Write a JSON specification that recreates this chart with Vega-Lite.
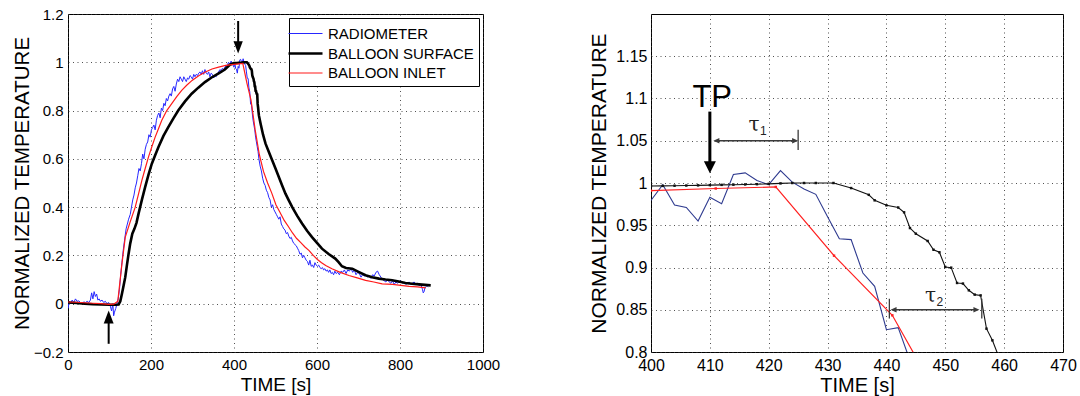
{
  "$schema": "https://vega.github.io/schema/vega-lite/v6.json",
  "padding": {"left": 11, "top": 6, "right": 4, "bottom": 0},
  "bounds": "flush",
  "spacing": 168,
  "config": {
    "font": "Liberation Sans",
    "view": {"stroke": "#000", "strokeWidth": 1},
    "axis": {
      "domain": false, "ticks": false, "labelFlush": false,
      "grid": true, "gridColor": "#333", "gridDash": [1, 3.5], "gridOpacity": 0.85, "gridWidth": 1,
      "labelColor": "#000", "titleColor": "#000", "titleFontWeight": "normal",
      "labelFont": "Liberation Sans", "titleFont": "Liberation Sans"
    }
  },
  "resolve": {"scale": {"color": "independent", "strokeWidth": "independent"}},
  "datasets": {
    "series": [
      {"s":"RADIOMETER","t":0,"v":-0.02},{"s":"RADIOMETER","t":3,"v":0.01},{"s":"RADIOMETER","t":6,"v":0.0},{"s":"RADIOMETER","t":10,"v":0.015},{"s":"RADIOMETER","t":14,"v":0.005},{"s":"RADIOMETER","t":18,"v":0.02},{"s":"RADIOMETER","t":22,"v":0.01},{"s":"RADIOMETER","t":26,"v":0.012},{"s":"RADIOMETER","t":30,"v":0.005},{"s":"RADIOMETER","t":34,"v":0.0},{"s":"RADIOMETER","t":38,"v":0.008},{"s":"RADIOMETER","t":42,"v":0.004},{"s":"RADIOMETER","t":46,"v":0.01},{"s":"RADIOMETER","t":50,"v":0.005},{"s":"RADIOMETER","t":54,"v":0.015},{"s":"RADIOMETER","t":57,"v":0.045},{"s":"RADIOMETER","t":60,"v":0.02},{"s":"RADIOMETER","t":63,"v":0.05},{"s":"RADIOMETER","t":66,"v":0.03},{"s":"RADIOMETER","t":69,"v":0.04},{"s":"RADIOMETER","t":72,"v":0.015},{"s":"RADIOMETER","t":75,"v":0.02},{"s":"RADIOMETER","t":78,"v":0.01},{"s":"RADIOMETER","t":82,"v":0.015},{"s":"RADIOMETER","t":86,"v":0.005},{"s":"RADIOMETER","t":90,"v":0.01},{"s":"RADIOMETER","t":94,"v":0.0},{"s":"RADIOMETER","t":98,"v":0.005},{"s":"RADIOMETER","t":102,"v":-0.01},{"s":"RADIOMETER","t":105,"v":-0.03},{"s":"RADIOMETER","t":108,"v":0.0},{"s":"RADIOMETER","t":110,"v":-0.05},{"s":"RADIOMETER","t":112,"v":-0.035},{"s":"RADIOMETER","t":115,"v":-0.02},{"s":"RADIOMETER","t":118,"v":0.0},{"s":"RADIOMETER","t":121,"v":0.02},
      {"s":"RADIOMETER","t":124,"v":0.06},{"s":"RADIOMETER","t":127,"v":0.12},{"s":"RADIOMETER","t":130,"v":0.17},{"s":"RADIOMETER","t":133,"v":0.22},{"s":"RADIOMETER","t":136,"v":0.26},{"s":"RADIOMETER","t":140,"v":0.31},{"s":"RADIOMETER","t":143,"v":0.33},{"s":"RADIOMETER","t":146,"v":0.35},{"s":"RADIOMETER","t":150,"v":0.37},{"s":"RADIOMETER","t":153,"v":0.4},{"s":"RADIOMETER","t":156,"v":0.43},{"s":"RADIOMETER","t":159,"v":0.45},{"s":"RADIOMETER","t":162,"v":0.48},{"s":"RADIOMETER","t":165,"v":0.5},{"s":"RADIOMETER","t":168,"v":0.53},{"s":"RADIOMETER","t":171,"v":0.56},{"s":"RADIOMETER","t":174,"v":0.55},{"s":"RADIOMETER","t":177,"v":0.58},{"s":"RADIOMETER","t":180,"v":0.62},{"s":"RADIOMETER","t":183,"v":0.6},{"s":"RADIOMETER","t":186,"v":0.64},{"s":"RADIOMETER","t":189,"v":0.66},{"s":"RADIOMETER","t":192,"v":0.67},{"s":"RADIOMETER","t":195,"v":0.7},{"s":"RADIOMETER","t":198,"v":0.69},{"s":"RADIOMETER","t":201,"v":0.72},{"s":"RADIOMETER","t":204,"v":0.73},{"s":"RADIOMETER","t":207,"v":0.74},{"s":"RADIOMETER","t":210,"v":0.72},{"s":"RADIOMETER","t":213,"v":0.76},{"s":"RADIOMETER","t":216,"v":0.78},{"s":"RADIOMETER","t":219,"v":0.79},{"s":"RADIOMETER","t":222,"v":0.77},{"s":"RADIOMETER","t":225,"v":0.81},{"s":"RADIOMETER","t":228,"v":0.8},{"s":"RADIOMETER","t":231,"v":0.83},{"s":"RADIOMETER","t":234,"v":0.82},{"s":"RADIOMETER","t":237,"v":0.85},{"s":"RADIOMETER","t":240,"v":0.84},{"s":"RADIOMETER","t":243,"v":0.86},{"s":"RADIOMETER","t":246,"v":0.87},{"s":"RADIOMETER","t":249,"v":0.86},{"s":"RADIOMETER","t":252,"v":0.89},{"s":"RADIOMETER","t":255,"v":0.9},{"s":"RADIOMETER","t":258,"v":0.88},{"s":"RADIOMETER","t":261,"v":0.91},{"s":"RADIOMETER","t":264,"v":0.93},{"s":"RADIOMETER","t":267,"v":0.92},{"s":"RADIOMETER","t":270,"v":0.94},{"s":"RADIOMETER","t":273,"v":0.93},{"s":"RADIOMETER","t":276,"v":0.92},{"s":"RADIOMETER","t":279,"v":0.94},{"s":"RADIOMETER","t":282,"v":0.93},{"s":"RADIOMETER","t":285,"v":0.92},{"s":"RADIOMETER","t":288,"v":0.935},{"s":"RADIOMETER","t":291,"v":0.93},{"s":"RADIOMETER","t":294,"v":0.945},{"s":"RADIOMETER","t":297,"v":0.94},{"s":"RADIOMETER","t":300,"v":0.93},{"s":"RADIOMETER","t":303,"v":0.95},{"s":"RADIOMETER","t":306,"v":0.94},{"s":"RADIOMETER","t":309,"v":0.95},{"s":"RADIOMETER","t":312,"v":0.945},{"s":"RADIOMETER","t":315,"v":0.955},{"s":"RADIOMETER","t":318,"v":0.96},{"s":"RADIOMETER","t":321,"v":0.95},{"s":"RADIOMETER","t":324,"v":0.965},{"s":"RADIOMETER","t":327,"v":0.95},{"s":"RADIOMETER","t":330,"v":0.97},{"s":"RADIOMETER","t":333,"v":0.955},{"s":"RADIOMETER","t":336,"v":0.95},{"s":"RADIOMETER","t":339,"v":0.96},{"s":"RADIOMETER","t":342,"v":0.94},{"s":"RADIOMETER","t":345,"v":0.955},{"s":"RADIOMETER","t":348,"v":0.95},{"s":"RADIOMETER","t":351,"v":0.935},{"s":"RADIOMETER","t":354,"v":0.945},{"s":"RADIOMETER","t":357,"v":0.94},{"s":"RADIOMETER","t":360,"v":0.955},{"s":"RADIOMETER","t":363,"v":0.96},{"s":"RADIOMETER","t":366,"v":0.97},{"s":"RADIOMETER","t":369,"v":0.965},{"s":"RADIOMETER","t":372,"v":0.975},{"s":"RADIOMETER","t":375,"v":0.97},{"s":"RADIOMETER","t":378,"v":0.98},{"s":"RADIOMETER","t":381,"v":0.985},{"s":"RADIOMETER","t":384,"v":0.99},{"s":"RADIOMETER","t":387,"v":1.0},{"s":"RADIOMETER","t":390,"v":0.99},{"s":"RADIOMETER","t":393,"v":1.005},{"s":"RADIOMETER","t":396,"v":0.995},
      {"s":"RADIOMETER","t":400,"v":0.9795},{"s":"RADIOMETER","t":402,"v":0.998},{"s":"RADIOMETER","t":404,"v":0.974},{"s":"RADIOMETER","t":406,"v":0.971},{"s":"RADIOMETER","t":408,"v":0.955},{"s":"RADIOMETER","t":410,"v":0.983},{"s":"RADIOMETER","t":412,"v":0.9755},{"s":"RADIOMETER","t":414,"v":1.01},{"s":"RADIOMETER","t":416,"v":1.012},{"s":"RADIOMETER","t":418,"v":1.003},{"s":"RADIOMETER","t":420,"v":0.998},{"s":"RADIOMETER","t":422,"v":1.0146},{"s":"RADIOMETER","t":424,"v":1.001},{"s":"RADIOMETER","t":426,"v":0.993},{"s":"RADIOMETER","t":428,"v":0.9866},{"s":"RADIOMETER","t":430,"v":0.96},{"s":"RADIOMETER","t":432,"v":0.934},{"s":"RADIOMETER","t":434,"v":0.933},{"s":"RADIOMETER","t":436,"v":0.8935},{"s":"RADIOMETER","t":438,"v":0.8777},{"s":"RADIOMETER","t":440,"v":0.8264},{"s":"RADIOMETER","t":442,"v":0.8288},{"s":"RADIOMETER","t":444,"v":0.79},{"s":"RADIOMETER","t":446,"v":0.76},{"s":"RADIOMETER","t":448,"v":0.74},{"s":"RADIOMETER","t":450,"v":0.72},{"s":"RADIOMETER","t":452,"v":0.69},{"s":"RADIOMETER","t":454,"v":0.67},{"s":"RADIOMETER","t":456,"v":0.65},{"s":"RADIOMETER","t":458,"v":0.63},{"s":"RADIOMETER","t":460,"v":0.6},{"s":"RADIOMETER","t":463,"v":0.57},{"s":"RADIOMETER","t":466,"v":0.55},{"s":"RADIOMETER","t":469,"v":0.52},{"s":"RADIOMETER","t":472,"v":0.5},{"s":"RADIOMETER","t":475,"v":0.49},{"s":"RADIOMETER","t":478,"v":0.47},{"s":"RADIOMETER","t":481,"v":0.46},{"s":"RADIOMETER","t":484,"v":0.44},{"s":"RADIOMETER","t":487,"v":0.43},{"s":"RADIOMETER","t":490,"v":0.4},{"s":"RADIOMETER","t":493,"v":0.41},{"s":"RADIOMETER","t":496,"v":0.39},{"s":"RADIOMETER","t":499,"v":0.38},{"s":"RADIOMETER","t":502,"v":0.37},{"s":"RADIOMETER","t":505,"v":0.36},{"s":"RADIOMETER","t":508,"v":0.35},{"s":"RADIOMETER","t":511,"v":0.36},{"s":"RADIOMETER","t":514,"v":0.33},{"s":"RADIOMETER","t":517,"v":0.32},{"s":"RADIOMETER","t":520,"v":0.31},{"s":"RADIOMETER","t":523,"v":0.305},{"s":"RADIOMETER","t":526,"v":0.29},{"s":"RADIOMETER","t":529,"v":0.295},{"s":"RADIOMETER","t":532,"v":0.28},{"s":"RADIOMETER","t":535,"v":0.27},{"s":"RADIOMETER","t":538,"v":0.275},{"s":"RADIOMETER","t":541,"v":0.26},{"s":"RADIOMETER","t":544,"v":0.25},{"s":"RADIOMETER","t":547,"v":0.245},{"s":"RADIOMETER","t":550,"v":0.24},{"s":"RADIOMETER","t":553,"v":0.23},{"s":"RADIOMETER","t":556,"v":0.22},{"s":"RADIOMETER","t":559,"v":0.205},{"s":"RADIOMETER","t":562,"v":0.21},{"s":"RADIOMETER","t":565,"v":0.19},{"s":"RADIOMETER","t":568,"v":0.2},{"s":"RADIOMETER","t":571,"v":0.19},{"s":"RADIOMETER","t":574,"v":0.18},{"s":"RADIOMETER","t":577,"v":0.175},{"s":"RADIOMETER","t":580,"v":0.16},{"s":"RADIOMETER","t":583,"v":0.18},{"s":"RADIOMETER","t":586,"v":0.155},{"s":"RADIOMETER","t":589,"v":0.16},{"s":"RADIOMETER","t":592,"v":0.15},{"s":"RADIOMETER","t":595,"v":0.17},{"s":"RADIOMETER","t":598,"v":0.16},{"s":"RADIOMETER","t":601,"v":0.155},{"s":"RADIOMETER","t":604,"v":0.16},{"s":"RADIOMETER","t":607,"v":0.15},{"s":"RADIOMETER","t":610,"v":0.145},{"s":"RADIOMETER","t":613,"v":0.15},{"s":"RADIOMETER","t":616,"v":0.14},{"s":"RADIOMETER","t":619,"v":0.145},{"s":"RADIOMETER","t":622,"v":0.135},{"s":"RADIOMETER","t":625,"v":0.14},{"s":"RADIOMETER","t":628,"v":0.13},{"s":"RADIOMETER","t":631,"v":0.14},{"s":"RADIOMETER","t":634,"v":0.125},{"s":"RADIOMETER","t":637,"v":0.13},{"s":"RADIOMETER","t":640,"v":0.12},{"s":"RADIOMETER","t":643,"v":0.135},{"s":"RADIOMETER","t":646,"v":0.125},{"s":"RADIOMETER","t":650,"v":0.13},{"s":"RADIOMETER","t":654,"v":0.12},{"s":"RADIOMETER","t":658,"v":0.135},{"s":"RADIOMETER","t":662,"v":0.13},{"s":"RADIOMETER","t":666,"v":0.14},{"s":"RADIOMETER","t":670,"v":0.125},{"s":"RADIOMETER","t":674,"v":0.14},{"s":"RADIOMETER","t":678,"v":0.135},{"s":"RADIOMETER","t":682,"v":0.145},{"s":"RADIOMETER","t":686,"v":0.13},{"s":"RADIOMETER","t":690,"v":0.14},{"s":"RADIOMETER","t":694,"v":0.12},{"s":"RADIOMETER","t":698,"v":0.13},{"s":"RADIOMETER","t":702,"v":0.125},{"s":"RADIOMETER","t":706,"v":0.11},{"s":"RADIOMETER","t":710,"v":0.12},{"s":"RADIOMETER","t":714,"v":0.115},{"s":"RADIOMETER","t":718,"v":0.12},{"s":"RADIOMETER","t":722,"v":0.11},{"s":"RADIOMETER","t":726,"v":0.115},{"s":"RADIOMETER","t":730,"v":0.105},{"s":"RADIOMETER","t":734,"v":0.12},{"s":"RADIOMETER","t":738,"v":0.115},{"s":"RADIOMETER","t":742,"v":0.13},{"s":"RADIOMETER","t":746,"v":0.135},{"s":"RADIOMETER","t":750,"v":0.12},{"s":"RADIOMETER","t":754,"v":0.11},{"s":"RADIOMETER","t":758,"v":0.1},{"s":"RADIOMETER","t":762,"v":0.095},{"s":"RADIOMETER","t":766,"v":0.09},{"s":"RADIOMETER","t":770,"v":0.1},{"s":"RADIOMETER","t":774,"v":0.09},{"s":"RADIOMETER","t":778,"v":0.085},{"s":"RADIOMETER","t":782,"v":0.095},{"s":"RADIOMETER","t":786,"v":0.08},{"s":"RADIOMETER","t":790,"v":0.09},{"s":"RADIOMETER","t":794,"v":0.085},{"s":"RADIOMETER","t":798,"v":0.09},{"s":"RADIOMETER","t":802,"v":0.095},{"s":"RADIOMETER","t":806,"v":0.085},{"s":"RADIOMETER","t":810,"v":0.09},{"s":"RADIOMETER","t":814,"v":0.08},{"s":"RADIOMETER","t":818,"v":0.085},{"s":"RADIOMETER","t":822,"v":0.09},{"s":"RADIOMETER","t":826,"v":0.08},{"s":"RADIOMETER","t":830,"v":0.085},{"s":"RADIOMETER","t":834,"v":0.09},{"s":"RADIOMETER","t":838,"v":0.08},{"s":"RADIOMETER","t":842,"v":0.085},{"s":"RADIOMETER","t":846,"v":0.075},{"s":"RADIOMETER","t":850,"v":0.08},{"s":"RADIOMETER","t":854,"v":0.06},{"s":"RADIOMETER","t":856,"v":0.045},{"s":"RADIOMETER","t":858,"v":0.05},{"s":"RADIOMETER","t":860,"v":0.065},{"s":"RADIOMETER","t":862,"v":0.07},{"s":"RADIOMETER","t":865,"v":0.075},{"s":"RADIOMETER","t":868,"v":0.07},
      {"s":"BALLOON SURFACE","t":0,"v":0.005},{"s":"BALLOON SURFACE","t":20,"v":0.003},{"s":"BALLOON SURFACE","t":40,"v":0.0},{"s":"BALLOON SURFACE","t":60,"v":-0.002},{"s":"BALLOON SURFACE","t":80,"v":-0.003},{"s":"BALLOON SURFACE","t":100,"v":-0.004},{"s":"BALLOON SURFACE","t":115,"v":-0.004},{"s":"BALLOON SURFACE","t":122,"v":-0.003},{"s":"BALLOON SURFACE","t":126,"v":0.01},{"s":"BALLOON SURFACE","t":130,"v":0.041},{"s":"BALLOON SURFACE","t":134,"v":0.075},{"s":"BALLOON SURFACE","t":138,"v":0.11},{"s":"BALLOON SURFACE","t":142,"v":0.16},{"s":"BALLOON SURFACE","t":146,"v":0.207},{"s":"BALLOON SURFACE","t":150,"v":0.25},{"s":"BALLOON SURFACE","t":155,"v":0.29},{"s":"BALLOON SURFACE","t":160,"v":0.31},{"s":"BALLOON SURFACE","t":165,"v":0.335},{"s":"BALLOON SURFACE","t":170,"v":0.373},{"s":"BALLOON SURFACE","t":178,"v":0.43},{"s":"BALLOON SURFACE","t":186,"v":0.484},{"s":"BALLOON SURFACE","t":194,"v":0.535},{"s":"BALLOON SURFACE","t":202,"v":0.58},{"s":"BALLOON SURFACE","t":210,"v":0.615},{"s":"BALLOON SURFACE","t":218,"v":0.649},{"s":"BALLOON SURFACE","t":230,"v":0.695},{"s":"BALLOON SURFACE","t":242,"v":0.732},{"s":"BALLOON SURFACE","t":254,"v":0.768},{"s":"BALLOON SURFACE","t":266,"v":0.801},{"s":"BALLOON SURFACE","t":282,"v":0.838},{"s":"BALLOON SURFACE","t":298,"v":0.87},{"s":"BALLOON SURFACE","t":314,"v":0.895},{"s":"BALLOON SURFACE","t":330,"v":0.918},{"s":"BALLOON SURFACE","t":346,"v":0.937},{"s":"BALLOON SURFACE","t":362,"v":0.953},{"s":"BALLOON SURFACE","t":378,"v":0.97},{"s":"BALLOON SURFACE","t":390,"v":0.99},{"s":"BALLOON SURFACE","t":400,"v":0.9965},{"s":"BALLOON SURFACE","t":402,"v":0.9966},{"s":"BALLOON SURFACE","t":404,"v":0.9968},{"s":"BALLOON SURFACE","t":406,"v":0.997},{"s":"BALLOON SURFACE","t":408,"v":0.9972},{"s":"BALLOON SURFACE","t":410,"v":0.9975},{"s":"BALLOON SURFACE","t":412,"v":0.9978},{"s":"BALLOON SURFACE","t":414,"v":0.998},{"s":"BALLOON SURFACE","t":416,"v":0.9983},{"s":"BALLOON SURFACE","t":418,"v":0.9986},{"s":"BALLOON SURFACE","t":420,"v":0.999},{"s":"BALLOON SURFACE","t":422,"v":0.9995},{"s":"BALLOON SURFACE","t":424,"v":1.0},{"s":"BALLOON SURFACE","t":426,"v":1.0},{"s":"BALLOON SURFACE","t":428,"v":1.0},{"s":"BALLOON SURFACE","t":431,"v":1.0},{"s":"BALLOON SURFACE","t":434,"v":0.994},{"s":"BALLOON SURFACE","t":437,"v":0.986},{"s":"BALLOON SURFACE","t":438,"v":0.9795},{"s":"BALLOON SURFACE","t":440,"v":0.9736},{"s":"BALLOON SURFACE","t":442,"v":0.971},{"s":"BALLOON SURFACE","t":443,"v":0.9653},{"s":"BALLOON SURFACE","t":444,"v":0.9467},{"s":"BALLOON SURFACE","t":445,"v":0.94},{"s":"BALLOON SURFACE","t":447,"v":0.9314},{"s":"BALLOON SURFACE","t":448,"v":0.921},{"s":"BALLOON SURFACE","t":449,"v":0.918},{"s":"BALLOON SURFACE","t":450,"v":0.9006},{"s":"BALLOON SURFACE","t":451,"v":0.8998},{"s":"BALLOON SURFACE","t":452,"v":0.8817},{"s":"BALLOON SURFACE","t":453,"v":0.881},{"s":"BALLOON SURFACE","t":454,"v":0.873},{"s":"BALLOON SURFACE","t":455,"v":0.8679},{"s":"BALLOON SURFACE","t":456,"v":0.867},{"s":"BALLOON SURFACE","t":457,"v":0.8276},{"s":"BALLOON SURFACE","t":458,"v":0.8138},{"s":"BALLOON SURFACE","t":459,"v":0.796},{"s":"BALLOON SURFACE","t":460,"v":0.78},{"s":"BALLOON SURFACE","t":464,"v":0.746},{"s":"BALLOON SURFACE","t":470,"v":0.7},{"s":"BALLOON SURFACE","t":476,"v":0.663},{"s":"BALLOON SURFACE","t":484,"v":0.628},{"s":"BALLOON SURFACE","t":492,"v":0.594},{"s":"BALLOON SURFACE","t":500,"v":0.56},{"s":"BALLOON SURFACE","t":508,"v":0.525},{"s":"BALLOON SURFACE","t":516,"v":0.49},{"s":"BALLOON SURFACE","t":524,"v":0.456},{"s":"BALLOON SURFACE","t":532,"v":0.428},{"s":"BALLOON SURFACE","t":540,"v":0.401},{"s":"BALLOON SURFACE","t":552,"v":0.365},{"s":"BALLOON SURFACE","t":564,"v":0.332},{"s":"BALLOON SURFACE","t":576,"v":0.302},{"s":"BALLOON SURFACE","t":588,"v":0.276},{"s":"BALLOON SURFACE","t":600,"v":0.252},{"s":"BALLOON SURFACE","t":612,"v":0.228},{"s":"BALLOON SURFACE","t":628,"v":0.206},{"s":"BALLOON SURFACE","t":644,"v":0.187},{"s":"BALLOON SURFACE","t":652,"v":0.172},{"s":"BALLOON SURFACE","t":660,"v":0.155},{"s":"BALLOON SURFACE","t":670,"v":0.148},{"s":"BALLOON SURFACE","t":685,"v":0.145},{"s":"BALLOON SURFACE","t":700,"v":0.132},{"s":"BALLOON SURFACE","t":717,"v":0.118},{"s":"BALLOON SURFACE","t":733,"v":0.11},{"s":"BALLOON SURFACE","t":749,"v":0.104},{"s":"BALLOON SURFACE","t":765,"v":0.1},{"s":"BALLOON SURFACE","t":781,"v":0.097},{"s":"BALLOON SURFACE","t":797,"v":0.092},{"s":"BALLOON SURFACE","t":813,"v":0.086},{"s":"BALLOON SURFACE","t":829,"v":0.083},{"s":"BALLOON SURFACE","t":846,"v":0.08},{"s":"BALLOON SURFACE","t":860,"v":0.078},{"s":"BALLOON SURFACE","t":874,"v":0.076},
      {"s":"BALLOON INLET","t":0,"v":0.007},{"s":"BALLOON INLET","t":20,"v":0.006},{"s":"BALLOON INLET","t":40,"v":0.004},{"s":"BALLOON INLET","t":60,"v":0.002},{"s":"BALLOON INLET","t":80,"v":0.0},{"s":"BALLOON INLET","t":98,"v":-0.003},{"s":"BALLOON INLET","t":110,"v":-0.002},{"s":"BALLOON INLET","t":120,"v":0.01},{"s":"BALLOON INLET","t":130,"v":0.166},{"s":"BALLOON INLET","t":138,"v":0.276},{"s":"BALLOON INLET","t":150,"v":0.34},{"s":"BALLOON INLET","t":162,"v":0.4},{"s":"BALLOON INLET","t":170,"v":0.455},{"s":"BALLOON INLET","t":178,"v":0.511},{"s":"BALLOON INLET","t":186,"v":0.56},{"s":"BALLOON INLET","t":194,"v":0.608},{"s":"BALLOON INLET","t":202,"v":0.65},{"s":"BALLOON INLET","t":210,"v":0.69},{"s":"BALLOON INLET","t":218,"v":0.725},{"s":"BALLOON INLET","t":226,"v":0.76},{"s":"BALLOON INLET","t":238,"v":0.8},{"s":"BALLOON INLET","t":250,"v":0.829},{"s":"BALLOON INLET","t":262,"v":0.858},{"s":"BALLOON INLET","t":274,"v":0.884},{"s":"BALLOON INLET","t":286,"v":0.905},{"s":"BALLOON INLET","t":299,"v":0.925},{"s":"BALLOON INLET","t":315,"v":0.944},{"s":"BALLOON INLET","t":331,"v":0.96},{"s":"BALLOON INLET","t":347,"v":0.972},{"s":"BALLOON INLET","t":363,"v":0.98},{"s":"BALLOON INLET","t":380,"v":0.987},{"s":"BALLOON INLET","t":400,"v":0.991},{"s":"BALLOON INLET","t":411,"v":0.9935},{"s":"BALLOON INLET","t":421.2,"v":0.9953},{"s":"BALLOON INLET","t":431.1,"v":0.914},{"s":"BALLOON INLET","t":441,"v":0.8434},{"s":"BALLOON INLET","t":451,"v":0.72},{"s":"BALLOON INLET","t":461,"v":0.618},{"s":"BALLOON INLET","t":471,"v":0.548},{"s":"BALLOON INLET","t":481,"v":0.5},{"s":"BALLOON INLET","t":491,"v":0.458},{"s":"BALLOON INLET","t":501,"v":0.41},{"s":"BALLOON INLET","t":511,"v":0.378},{"s":"BALLOON INLET","t":521,"v":0.345},{"s":"BALLOON INLET","t":531,"v":0.32},{"s":"BALLOON INLET","t":541,"v":0.293},{"s":"BALLOON INLET","t":551,"v":0.27},{"s":"BALLOON INLET","t":561,"v":0.253},{"s":"BALLOON INLET","t":571,"v":0.235},{"s":"BALLOON INLET","t":581,"v":0.22},{"s":"BALLOON INLET","t":591,"v":0.2},{"s":"BALLOON INLET","t":601,"v":0.183},{"s":"BALLOON INLET","t":611,"v":0.17},{"s":"BALLOON INLET","t":621,"v":0.158},{"s":"BALLOON INLET","t":636,"v":0.145},{"s":"BALLOON INLET","t":656,"v":0.13},{"s":"BALLOON INLET","t":677,"v":0.117},{"s":"BALLOON INLET","t":697,"v":0.107},{"s":"BALLOON INLET","t":717,"v":0.097},{"s":"BALLOON INLET","t":737,"v":0.09},{"s":"BALLOON INLET","t":757,"v":0.082},{"s":"BALLOON INLET","t":782,"v":0.08},{"s":"BALLOON INLET","t":802,"v":0.076},{"s":"BALLOON INLET","t":822,"v":0.072},{"s":"BALLOON INLET","t":842,"v":0.07},{"s":"BALLOON INLET","t":862,"v":0.066}
    ],
    "ann": [
      {"p":"L","k":"seg","t":98,"v":-0.166,"t2":98,"v2":-0.07},
      {"p":"L","k":"seg","t":410,"v":1.171,"t2":410,"v2":1.07},
      {"p":"L","k":"up","t":98,"v":-0.028},
      {"p":"L","k":"down","t":410,"v":1.036},
      {"p":"R","k":"thick","t":410,"v":1.0845,"t2":410,"v2":1.02},
      {"p":"R","k":"bigdown","t":410,"v":1.0115},
      {"p":"R","k":"seg","t":410.9,"v":1.05,"t2":424.5,"v2":1.05},
      {"p":"R","k":"seg","t":425,"v":1.039,"t2":425,"v2":1.063},
      {"p":"R","k":"left","t":410.6,"v":1.05},
      {"p":"R","k":"right","t":425,"v":1.05},
      {"p":"R","k":"seg","t":441,"v":0.85,"t2":455.5,"v2":0.85},
      {"p":"R","k":"seg","t":440.5,"v":0.8396,"t2":440.5,"v2":0.863},
      {"p":"R","k":"seg","t":456.2,"v":0.8396,"t2":456.2,"v2":0.863},
      {"p":"R","k":"left","t":440.7,"v":0.85},
      {"p":"R","k":"right","t":455.8,"v":0.85},
      {"p":"R","k":"big","t":410.4,"v":1.0905,"label":"TP"},
      {"p":"R","k":"tau","t":417.5,"v":1.061,"label":"τ"},
      {"p":"R","k":"sub","t":418.5,"v":1.0565,"label":"1"},
      {"p":"R","k":"tau","t":447.5,"v":0.8593,"label":"τ"},
      {"p":"R","k":"sub","t":448.5,"v":0.8548,"label":"2"}
    ]
  },
  "hconcat": [
    {
      "width": 415,
      "height": 338,
      "encoding": {
        "x": {"field": "t", "type": "quantitative", "scale": {"domain": [0, 1000], "nice": false, "zero": false},
              "axis": {"title": "TIME [s]", "values": [0, 200, 400, 600, 800, 1000], "format": "d", "labelFontSize": 15, "titleFontSize": 19, "labelPadding": 5, "titlePadding": 3}},
        "y": {"field": "v", "type": "quantitative", "scale": {"domain": [-0.2, 1.2], "nice": false, "zero": false},
              "axis": {"title": "NORMALIZED TEMPERATURE", "values": [-0.2, 0, 0.2, 0.4, 0.6, 0.8, 1, 1.2], "format": "~g", "labelFontSize": 15, "titleFontSize": 20.5, "labelPadding": 5, "titlePadding": 1}}
      },
      "layer": [
        {
          "data": {"name": "series"},
          "mark": {"type": "line", "clip": true},
          "encoding": {
            "color": {"field": "s", "type": "nominal",
                      "scale": {"domain": ["RADIOMETER", "BALLOON SURFACE", "BALLOON INLET"], "range": ["#2626ff", "#000000", "#ff1a1a"]},
                      "legend": {"title": null, "orient": "top-right", "offset": 4, "padding": 5, "strokeColor": "#000", "fillColor": "#fff",
                                 "labelFontSize": 15, "labelColor": "#000", "symbolType": "M-1.7,0L1.7,0", "symbolSize": 400, "symbolStrokeWidth": 1.5,
                                 "rowPadding": -3.5, "labelOffset": 11, "cornerRadius": 0}},
            "strokeWidth": {"field": "s", "type": "nominal",
                            "scale": {"type": "ordinal", "domain": ["RADIOMETER", "BALLOON SURFACE", "BALLOON INLET"], "range": [1, 2.6, 1.2]},
                            "legend": null},
            "order": {"field": "t", "type": "quantitative"}
          }
        },
        {
          "data": {"name": "ann"},
          "transform": [{"filter": "datum.p == 'L' && datum.k == 'seg'"}],
          "mark": {"type": "rule", "color": "#000", "strokeWidth": 2},
          "encoding": {"x2": {"field": "t2"}, "y2": {"field": "v2"}}
        },
        {
          "data": {"name": "ann"},
          "transform": [{"filter": "datum.p == 'L' && datum.k == 'up'"}],
          "mark": {"type": "point", "shape": "M0,0L-0.38,1L0.38,1Z", "filled": true, "color": "#000", "opacity": 1, "size": 676}
        },
        {
          "data": {"name": "ann"},
          "transform": [{"filter": "datum.p == 'L' && datum.k == 'down'"}],
          "mark": {"type": "point", "shape": "M0,0L-0.38,-1L0.38,-1Z", "filled": true, "color": "#000", "opacity": 1, "size": 600}
        }
      ]
    },
    {
      "width": 412,
      "height": 338,
      "encoding": {
        "x": {"field": "t", "type": "quantitative", "scale": {"domain": [400, 470], "nice": false, "zero": false},
              "axis": {"title": "TIME [s]", "values": [400, 410, 420, 430, 440, 450, 460, 470], "format": "d", "labelFontSize": 16, "titleFontSize": 20, "labelPadding": 5, "titlePadding": 2}},
        "y": {"field": "v", "type": "quantitative", "scale": {"domain": [0.8, 1.2], "nice": false, "zero": false},
              "axis": {"title": "NORMALIZED TEMPERATURE", "values": [0.8, 0.85, 0.9, 0.95, 1, 1.05, 1.1, 1.15], "format": "~g", "labelFontSize": 16, "titleFontSize": 21, "labelPadding": 4, "titlePadding": 6}}
      },
      "layer": [
        {
          "data": {"name": "series"},
          "transform": [{"filter": "datum.t >= 394 && datum.t <= 476"}],
          "mark": {"type": "line", "clip": true},
          "encoding": {
            "color": {"field": "s", "type": "nominal",
                      "scale": {"domain": ["RADIOMETER", "BALLOON SURFACE", "BALLOON INLET"], "range": ["#2e3a8f", "#111111", "#ff2020"]},
                      "legend": null},
            "strokeWidth": {"field": "s", "type": "nominal",
                            "scale": {"type": "ordinal", "domain": ["RADIOMETER", "BALLOON SURFACE", "BALLOON INLET"], "range": [1.1, 1.1, 1.2]},
                            "legend": null},
            "order": {"field": "t", "type": "quantitative"}
          }
        },
        {
          "data": {"name": "series"},
          "transform": [{"filter": "datum.t >= 400 && datum.t <= 470 && datum.s != 'RADIOMETER' && datum.v >= 0.8"}],
          "mark": {"type": "point", "shape": "square", "filled": true, "size": 6, "opacity": 1, "clip": true},
          "encoding": {
            "color": {"field": "s", "type": "nominal",
                      "scale": {"domain": ["RADIOMETER", "BALLOON SURFACE", "BALLOON INLET"], "range": ["#2e3a8f", "#111111", "#ff2020"]},
                      "legend": null}
          }
        },
        {
          "data": {"name": "ann"},
          "transform": [{"filter": "datum.p == 'R' && datum.k == 'seg'"}],
          "mark": {"type": "rule", "color": "#3a3a3a", "strokeWidth": 1.3},
          "encoding": {"x2": {"field": "t2"}, "y2": {"field": "v2"}}
        },
        {
          "data": {"name": "ann"},
          "transform": [{"filter": "datum.p == 'R' && datum.k == 'thick'"}],
          "mark": {"type": "rule", "color": "#000", "strokeWidth": 3},
          "encoding": {"x2": {"field": "t2"}, "y2": {"field": "v2"}}
        },
        {
          "data": {"name": "ann"},
          "transform": [{"filter": "datum.p == 'R' && datum.k == 'bigdown'"}],
          "mark": {"type": "point", "shape": "M0,0L-0.5,-1L0.5,-1Z", "filled": true, "color": "#000", "opacity": 1, "size": 576}
        },
        {
          "data": {"name": "ann"},
          "transform": [{"filter": "datum.p == 'R' && datum.k == 'left'"}],
          "mark": {"type": "point", "shape": "M0,0L1,-0.45L1,0.45Z", "filled": true, "color": "#3a3a3a", "opacity": 1, "size": 144}
        },
        {
          "data": {"name": "ann"},
          "transform": [{"filter": "datum.p == 'R' && datum.k == 'right'"}],
          "mark": {"type": "point", "shape": "M0,0L-1,-0.45L-1,0.45Z", "filled": true, "color": "#3a3a3a", "opacity": 1, "size": 144}
        },
        {
          "data": {"name": "ann"},
          "transform": [{"filter": "datum.p == 'R' && datum.k == 'big'"}],
          "mark": {"type": "text", "fontSize": 31, "align": "center", "baseline": "alphabetic", "color": "#000", "font": "Liberation Sans"},
          "encoding": {"text": {"field": "label"}}
        },
        {
          "data": {"name": "ann"},
          "transform": [{"filter": "datum.p == 'R' && datum.k == 'tau'"}],
          "mark": {"type": "text", "fontSize": 20, "align": "center", "baseline": "alphabetic", "color": "#222", "font": "DejaVu Serif"},
          "encoding": {"text": {"field": "label"}}
        },
        {
          "data": {"name": "ann"},
          "transform": [{"filter": "datum.p == 'R' && datum.k == 'sub'"}],
          "mark": {"type": "text", "fontSize": 12, "align": "left", "baseline": "alphabetic", "color": "#222", "font": "Liberation Sans"},
          "encoding": {"text": {"field": "label"}}
        }
      ]
    }
  ]
}
